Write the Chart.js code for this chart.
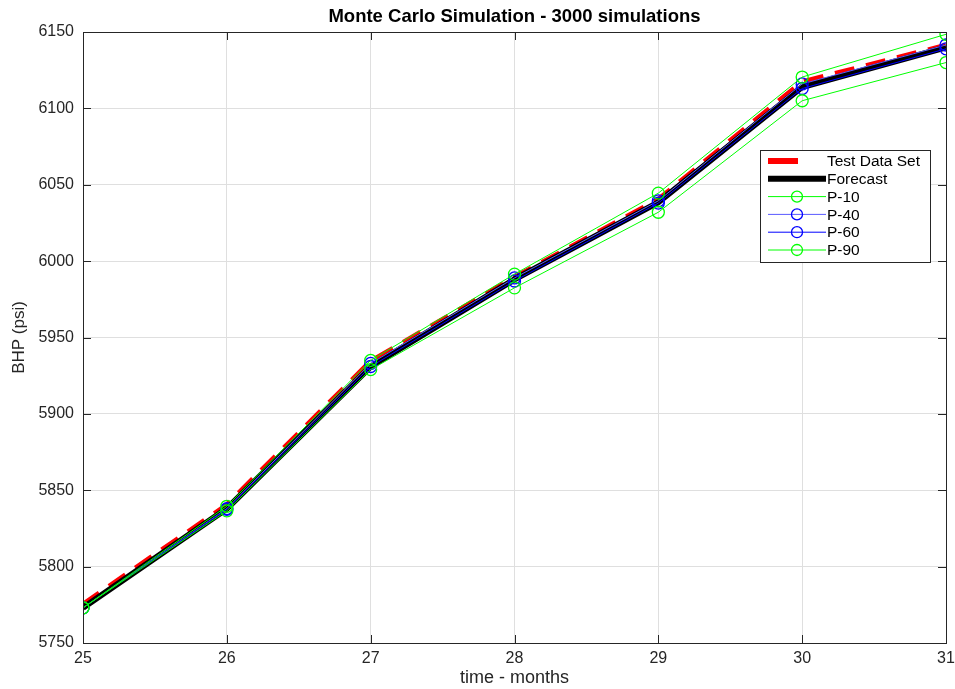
<!DOCTYPE html>
<html>
<head>
<meta charset="utf-8">
<script src="https://cdn.jsdelivr.net/npm/chart.js@4/dist/chart.umd.min.js"></script>
<style>
  html, body { margin: 0; padding: 0; background: #fff; }
  #wrap { width: 955px; height: 689px; }
</style>
</head>
<body>
<div id="wrap"><canvas id="mcChart" width="955" height="689"></canvas></div>
<script>
// data
const months = [25, 26, 27, 28, 29, 30, 31];
const testData = [5775, 5840, 5934, 5989, 6040, 6117, 6141];
const forecast = [5773, 5838, 5931, 5988, 6038.5, 6114, 6140];
const p10 = [5773, 5839.5, 5935, 5991.5, 6044.5, 6120.5, 6148.5];
const p40 = [5773, 5838, 5933, 5989, 6039.5, 6116, 6141.5];
const p60 = [5773, 5837.5, 5931, 5987, 6038, 6113, 6139];
const p90 = [5773, 5836.5, 5929, 5982.5, 6032, 6105, 6130];
const yTicks = [5750, 5800, 5850, 5900, 5950, 6000, 6050, 6100, 6150];

const FONT = "'Liberation Sans', Arial, Helvetica, sans-serif";

function pts(arr) {
  return months.map((m, i) => ({ x: m, y: arr[i] }));
}

// title, box, inward ticks and legend drawn like the matlab figure
const boxPlugin = {
  id: 'boxPlugin',
  afterDraw(chart) {
    const ctx = chart.ctx;
    const a = chart.chartArea;
    const xs = chart.scales.x, ys = chart.scales.y;
    ctx.save();
    ctx.strokeStyle = '#262626';
    ctx.lineWidth = 1;
    ctx.strokeRect(a.left + 0.5, a.top + 0.5, a.right - a.left, a.bottom - a.top);

    ctx.beginPath();
    months.forEach(m => {
      const px = Math.round(xs.getPixelForValue(m)) + 0.5;
      ctx.moveTo(px, a.bottom); ctx.lineTo(px, a.bottom - 8);
      ctx.moveTo(px, a.top); ctx.lineTo(px, a.top + 8);
    });
    yTicks.forEach(v => {
      const py = Math.round(ys.getPixelForValue(v)) + 0.5;
      ctx.moveTo(a.left, py); ctx.lineTo(a.left + 8, py);
      ctx.moveTo(a.right, py); ctx.lineTo(a.right - 8, py);
    });
    ctx.stroke();

    ctx.fillStyle = '#000';
    ctx.font = 'bold 18.5px ' + FONT;
    ctx.textAlign = 'center';
    ctx.textBaseline = 'middle';
    ctx.fillText('Monte Carlo Simulation - 3000 simulations', (a.left + a.right) / 2, 17);

    // legend
    const lx = 760, ly = 150, lw = 170, lh = 112;
    ctx.fillStyle = '#fff';
    ctx.fillRect(lx, ly, lw, lh);
    ctx.strokeStyle = '#262626';
    ctx.strokeRect(lx + 0.5, ly + 0.5, lw, lh);
    const ds = chart.data.datasets;
    ctx.font = '15.5px ' + FONT;
    ctx.textAlign = 'left';
    for (let i = 0; i < ds.length; i++) {
      const y = ly + 11 + i * 17.8;
      const d = ds[i];
      ctx.beginPath();
      ctx.strokeStyle = d.borderColor;
      ctx.lineWidth = d.borderWidth;
      ctx.setLineDash([]);
      if (d.borderDash && d.borderDash.length) {
        ctx.moveTo(lx + 8, y); ctx.lineTo(lx + 38, y);
      } else {
        ctx.moveTo(lx + 8, y); ctx.lineTo(lx + 66, y);
      }
      ctx.stroke();
      if (d.pointRadius > 0) {
        ctx.beginPath();
        ctx.lineWidth = 1.3;
        ctx.strokeStyle = d.pointBorderColor;
        ctx.arc(lx + 37, y, 5.5, 0, Math.PI * 2);
        ctx.stroke();
      }
      ctx.fillStyle = '#000';
      ctx.fillText(d.label, lx + 67, y + 1);
    }
    ctx.restore();
  }
};

const datasets = [
  {
    label: 'Test Data Set', data: pts(testData),
    borderColor: '#ff0000', borderWidth: 6, borderDash: [20, 12],
    pointRadius: 0, order: 6
  },
  {
    label: 'Forecast', data: pts(forecast),
    borderColor: '#000000', borderWidth: 6,
    pointRadius: 0, order: 5
  },
  {
    label: 'P-10', data: pts(p10),
    borderColor: '#00ff00', borderWidth: 1,
    pointRadius: 6, pointBorderColor: '#00ff00', pointBackgroundColor: 'rgba(0,0,0,0)',
    pointBorderWidth: 1.3, order: 1
  },
  {
    label: 'P-40', data: pts(p40),
    borderColor: '#5a5aff', borderWidth: 1,
    pointRadius: 6, pointBorderColor: '#0000ff', pointBackgroundColor: 'rgba(0,0,0,0)',
    pointBorderWidth: 1.3, order: 3
  },
  {
    label: 'P-60', data: pts(p60),
    borderColor: '#0000ff', borderWidth: 1,
    pointRadius: 6, pointBorderColor: '#0000ff', pointBackgroundColor: 'rgba(0,0,0,0)',
    pointBorderWidth: 1.3, order: 2
  },
  {
    label: 'P-90', data: pts(p90),
    borderColor: '#00ff00', borderWidth: 1,
    pointRadius: 6, pointBorderColor: '#00ff00', pointBackgroundColor: 'rgba(0,0,0,0)',
    pointBorderWidth: 1.3, order: 0
  }
];

const config = {
  type: 'line',
  data: { datasets: datasets },
  options: {
    responsive: false,
    animation: false,
    layout: { padding: { top: 32, right: 9, left: 0, bottom: 0 } },
    plugins: {
      legend: { display: false },
      title: { display: false },
      tooltip: { enabled: false }
    },
    scales: {
      x: {
        type: 'linear', min: 25, max: 31,
        afterFit(scale) {
          scale.height = 46;
          scale.paddingLeft = 0;
          scale.paddingRight = 0;
        },
        ticks: {
          stepSize: 1, color: '#262626', padding: 6,
          font: { family: FONT, size: 16 }
        },
        grid: { color: '#dfdfdf', drawTicks: false },
        border: { color: '#262626' },
        title: {
          display: true, text: 'time - months', color: '#262626',
          font: { family: FONT, size: 18 }, padding: { top: 1, bottom: 0 }
        }
      },
      y: {
        type: 'linear', min: yTicks[0], max: yTicks[yTicks.length - 1],
        afterFit(scale) {
          scale.width = 83;
          scale.paddingTop = 0;
          scale.paddingBottom = 0;
        },
        afterBuildTicks(scale) { scale.ticks = yTicks.map(v => ({ value: v })); },
        ticks: {
          color: '#262626', padding: 9,
          font: { family: FONT, size: 16 },
          callback: (v) => String(v)
        },
        grid: { color: '#dfdfdf', drawTicks: false },
        border: { color: '#262626' },
        title: {
          display: true, text: 'BHP (psi)', color: '#262626',
          font: { family: FONT, size: 17 }, padding: { top: 9, bottom: 4 }
        }
      }
    }
  },
  plugins: [boxPlugin]
};

const myChart = new Chart(document.getElementById('mcChart'), config);
</script>
</body>
</html>
